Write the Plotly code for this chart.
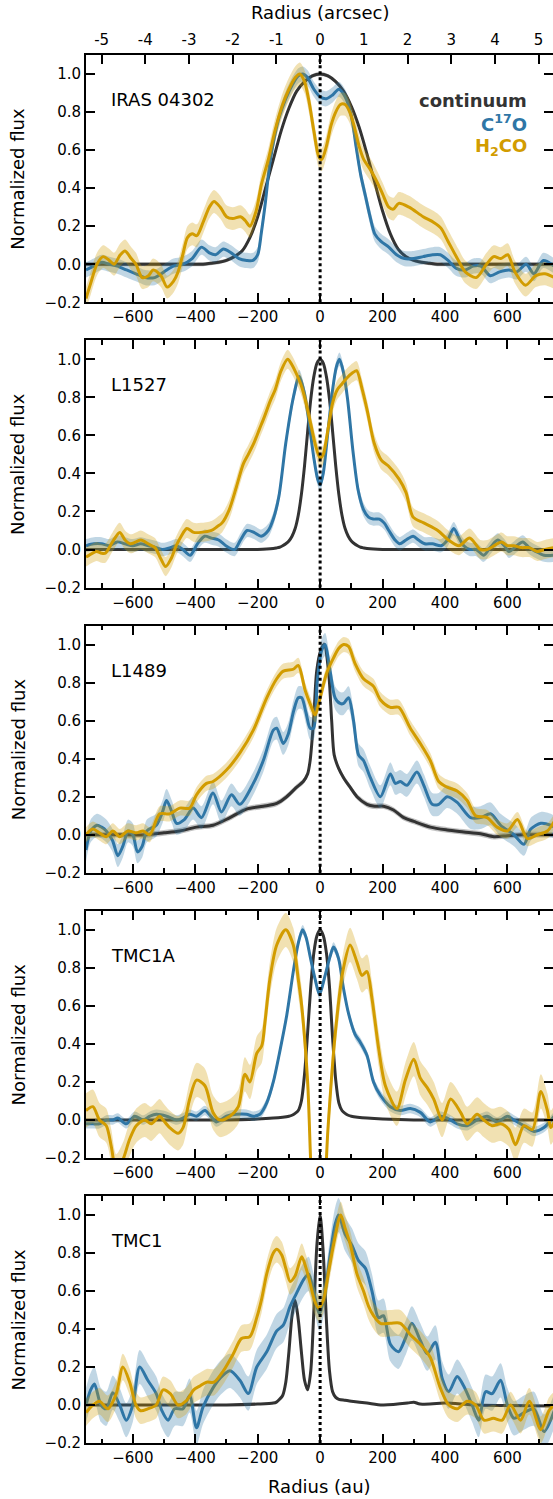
import plotly.graph_objects as go

# ---------------- data ----------------
SOURCES = ["IRAS 04302", "L1527", "L1489", "TMC1A", "TMC1"]
AU_PER_ARCSEC = 140.0
X_RANGE = [-750, 746]
Y_RANGE = [-0.2, 1.1]
ARCSEC_TICKS = [-5, -4, -3, -2, -1, 0, 1, 2, 3, 4, 5]
ARCSEC_LABELS = ["-5", "-4", "-3", "-2", "-1", "0", "1", "2", "3", "4", "5"]

# (radius [au], normalized flux)
IRAS04302_CONT = [(-750, 0.0), (-600, 0.0), (-450, 0.0), (-375, 0.0), (-350, 0.005), (-325, 0.01), (-300, 0.02),
                  (-275, 0.04), (-250, 0.07), (-225, 0.14), (-200, 0.25), (-175, 0.40), (-150, 0.55), (-125, 0.70),
                  (-100, 0.82), (-75, 0.91), (-50, 0.96), (-25, 0.99), (0, 1.0), (25, 0.99), (50, 0.96), (75, 0.91),
                  (100, 0.83), (125, 0.72), (150, 0.58), (175, 0.43), (200, 0.28), (225, 0.16), (250, 0.08),
                  (275, 0.04), (300, 0.02), (325, 0.01), (350, 0.005), (375, 0.0), (450, 0.0), (600, 0.0), (750, 0.0)]
IRAS04302_C17O = [(-750, -0.03), (-725, -0.01), (-700, 0.01), (-675, 0.0), (-650, -0.01), (-620, -0.03), (-590, -0.05),
                  (-560, -0.07), (-530, -0.07), (-500, -0.04), (-470, -0.01), (-440, 0.0), (-410, 0.03), (-380, 0.09),
                  (-355, 0.06), (-335, 0.05), (-310, 0.08), (-285, 0.06), (-260, 0.03), (-235, 0.02), (-215, 0.02),
                  (-200, 0.05), (-188, 0.17), (-175, 0.33), (-162, 0.52), (-145, 0.68), (-130, 0.78), (-110, 0.87),
                  (-90, 0.94), (-70, 0.99), (-55, 1.0), (-40, 0.98), (-20, 0.92), (0, 0.88), (20, 0.87), (40, 0.89),
                  (60, 0.92), (80, 0.88), (100, 0.78), (115, 0.62), (130, 0.47), (145, 0.36), (160, 0.25), (175, 0.16),
                  (195, 0.12), (220, 0.09), (245, 0.05), (270, 0.03), (300, 0.03), (330, 0.04), (360, 0.05),
                  (385, 0.05), (410, 0.02), (435, -0.02), (465, -0.03), (490, -0.01), (515, -0.01), (545, -0.06),
                  (575, -0.04), (605, -0.03), (630, -0.04), (660, 0.0), (685, -0.05), (715, 0.02), (750, -0.01)]
IRAS04302_H2CO = [(-750, -0.18), (-735, -0.1), (-715, 0.0), (-695, 0.04), (-675, 0.02), (-660, 0.0), (-640, 0.05),
                  (-625, 0.07), (-605, 0.03), (-590, 0.0), (-570, -0.07), (-550, -0.06), (-535, -0.03), (-510, -0.06),
                  (-490, -0.12), (-470, -0.09), (-455, -0.04), (-440, 0.05), (-425, 0.14), (-410, 0.16), (-395, 0.15),
                  (-375, 0.22), (-355, 0.3), (-340, 0.33), (-320, 0.3), (-300, 0.25), (-280, 0.24), (-255, 0.25),
                  (-240, 0.23), (-225, 0.2), (-205, 0.28), (-188, 0.42), (-166, 0.55), (-145, 0.7), (-120, 0.84),
                  (-100, 0.92), (-80, 0.98), (-65, 1.0), (-50, 0.96), (-35, 0.85), (-20, 0.7), (-5, 0.57), (5, 0.55),
                  (20, 0.62), (35, 0.73), (50, 0.8), (65, 0.84), (80, 0.84), (95, 0.8), (110, 0.72), (125, 0.62),
                  (140, 0.55), (160, 0.5), (180, 0.44), (200, 0.37), (220, 0.3), (235, 0.29), (252, 0.32), (285, 0.3),
                  (330, 0.25), (364, 0.22), (387, 0.19), (410, 0.12), (443, 0.02), (465, -0.04), (500, -0.07),
                  (533, 0.0), (556, 0.04), (579, 0.03), (601, 0.05), (624, -0.04), (658, -0.11), (691, -0.06),
                  (720, -0.05), (750, -0.07)]

L1527_CONT = [(-750, 0.0), (-500, 0.0), (-300, 0.0), (-200, 0.0), (-150, 0.005), (-140, 0.008), (-130, 0.012),
              (-120, 0.02), (-110, 0.03), (-100, 0.045), (-90, 0.07), (-80, 0.11), (-70, 0.18), (-60, 0.29),
              (-50, 0.44), (-40, 0.62), (-30, 0.79), (-20, 0.91), (-10, 0.98), (0, 1.0), (10, 0.98), (20, 0.91),
              (30, 0.79), (40, 0.62), (50, 0.44), (60, 0.29), (70, 0.18), (80, 0.11), (90, 0.07), (100, 0.045),
              (110, 0.03), (120, 0.02), (130, 0.012), (140, 0.008), (150, 0.005), (200, 0.0), (300, 0.0),
              (500, 0.0), (750, 0.0)]
L1527_C17O = [(-750, 0.02), (-725, 0.03), (-700, 0.03), (-675, 0.02), (-650, 0.04), (-625, 0.03), (-600, 0.02),
              (-575, 0.03), (-550, 0.02), (-525, 0.01), (-505, 0.0), (-480, 0.01), (-460, 0.02), (-440, 0.0),
              (-416, -0.03), (-393, 0.03), (-370, 0.07), (-348, 0.06), (-325, 0.05), (-302, 0.02), (-274, 0.0),
              (-255, 0.05), (-234, 0.1), (-212, 0.09), (-189, 0.07), (-166, 0.1), (-150, 0.16), (-132, 0.28),
              (-110, 0.56), (-87, 0.79), (-67, 0.91), (-50, 0.82), (-35, 0.66), (-20, 0.48), (-8, 0.37), (0, 0.34),
              (10, 0.4), (25, 0.62), (40, 0.84), (52, 0.96), (62, 1.0), (75, 0.93), (88, 0.79), (105, 0.52),
              (122, 0.31), (139, 0.21), (155, 0.17), (170, 0.16), (190, 0.16), (205, 0.14), (220, 0.1), (240, 0.05),
              (255, 0.03), (275, 0.05), (298, 0.07), (315, 0.05), (335, 0.03), (360, 0.03), (388, 0.02),
              (408, 0.05), (428, 0.11), (445, 0.06), (460, 0.02), (480, 0.0), (500, 0.0), (524, -0.03),
              (545, 0.01), (569, 0.05), (590, 0.02), (605, -0.01), (630, 0.02), (649, 0.04), (670, 0.01),
              (690, -0.01), (717, -0.03), (750, -0.03)]
L1527_H2CO = [(-750, -0.04), (-730, -0.02), (-716, -0.01), (-700, -0.02), (-688, -0.02), (-665, 0.04), (-642, 0.09),
              (-625, 0.05), (-608, 0.03), (-590, 0.04), (-574, 0.05), (-551, 0.03), (-529, 0.01), (-510, -0.05),
              (-495, -0.09), (-478, -0.05), (-461, 0.02), (-445, 0.07), (-427, 0.11), (-405, 0.09), (-382, 0.09),
              (-348, 0.1), (-330, 0.12), (-314, 0.14), (-291, 0.21), (-268, 0.33), (-246, 0.45), (-230, 0.5),
              (-212, 0.56), (-195, 0.63), (-178, 0.7), (-160, 0.78), (-144, 0.84), (-125, 0.94), (-104, 1.0),
              (-90, 0.97), (-75, 0.92), (-60, 0.86), (-45, 0.77), (-30, 0.66), (-15, 0.55), (0, 0.48), (10, 0.5),
              (25, 0.63), (40, 0.77), (55, 0.84), (70, 0.87), (85, 0.9), (105, 0.93), (117, 0.94), (135, 0.84),
              (151, 0.73), (173, 0.56), (196, 0.47), (218, 0.44), (253, 0.37), (275, 0.3), (298, 0.17),
              (332, 0.14), (377, 0.1), (411, 0.05), (445, 0.02), (479, 0.06), (513, 0.0), (535, 0.0), (558, 0.02),
              (581, 0.04), (600, 0.02), (620, 0.02), (645, 0.01), (670, 0.01), (695, -0.01), (720, 0.0), (750, 0.01)]

L1489_CONT = [(-750, 0.0), (-650, 0.0), (-557, 0.0), (-500, 0.01), (-450, 0.02), (-396, 0.04), (-343, 0.05),
              (-289, 0.09), (-236, 0.135), (-182, 0.15), (-139, 0.165), (-107, 0.2), (-75, 0.25), (-54, 0.28),
              (-40, 0.32), (-32, 0.39), (-21, 0.6), (-11, 0.86), (2, 0.97), (13, 1.0), (27, 0.86), (37, 0.6),
              (45, 0.42), (59, 0.35), (75, 0.3), (96, 0.25), (118, 0.2), (150, 0.16), (175, 0.15), (203, 0.15),
              (235, 0.13), (268, 0.09), (300, 0.07), (353, 0.04), (407, 0.025), (460, 0.015), (514, 0.005),
              (557, -0.01), (600, -0.005), (650, 0.0), (750, 0.0)]
L1489_C17O = [(-750, -0.08), (-735, 0.02), (-715, 0.05), (-700, 0.04), (-685, 0.02), (-665, -0.03), (-648, -0.11),
              (-632, -0.06), (-615, 0.02), (-600, 0.0), (-585, -0.09), (-570, -0.06), (-555, 0.02), (-525, 0.05),
              (-505, 0.12), (-492, 0.18), (-475, 0.12), (-460, 0.06), (-435, 0.08), (-407, 0.14), (-380, 0.09),
              (-343, 0.22), (-316, 0.12), (-284, 0.21), (-257, 0.16), (-214, 0.27), (-182, 0.39), (-150, 0.55),
              (-139, 0.56), (-118, 0.48), (-102, 0.53), (-85, 0.65), (-70, 0.72), (-59, 0.72), (-45, 0.64),
              (-32, 0.56), (-21, 0.56), (-9, 0.81), (5, 0.97), (16, 1.0), (32, 0.86), (48, 0.72), (64, 0.69),
              (75, 0.69), (91, 0.72), (107, 0.6), (123, 0.42), (139, 0.39), (161, 0.3), (193, 0.2), (225, 0.32),
              (241, 0.27), (257, 0.28), (278, 0.26), (310, 0.33), (332, 0.26), (359, 0.16), (380, 0.16),
              (407, 0.2), (439, 0.17), (482, 0.09), (514, 0.09), (546, 0.11), (578, 0.05), (621, 0.0),
              (653, -0.05), (675, 0.03), (707, 0.06), (739, 0.05), (750, 0.04)]
L1489_H2CO = [(-750, 0.0), (-728, 0.03), (-707, 0.01), (-685, -0.01), (-664, 0.02), (-642, -0.01), (-616, 0.02),
              (-589, 0.01), (-567, 0.02), (-546, 0.0), (-514, 0.11), (-482, 0.11), (-450, 0.14), (-418, 0.14),
              (-396, 0.21), (-364, 0.27), (-343, 0.28), (-300, 0.34), (-257, 0.43), (-214, 0.55), (-171, 0.72),
              (-139, 0.82), (-118, 0.86), (-86, 0.87), (-70, 0.89), (-48, 0.76), (-30, 0.68), (-16, 0.63),
              (0, 0.72), (21, 0.85), (43, 0.93), (60, 0.98), (75, 1.0), (91, 0.99), (112, 0.9), (139, 0.82),
              (171, 0.78), (193, 0.71), (225, 0.67), (252, 0.67), (289, 0.56), (321, 0.48), (353, 0.39),
              (380, 0.28), (407, 0.25), (439, 0.23), (471, 0.18), (498, 0.1), (535, 0.09), (567, 0.04), (600, 0.02),
              (632, 0.08), (664, -0.02), (696, 0.0), (728, 0.02), (750, 0.07)]

TMC1A_CONT = [(-750, 0.0), (-500, 0.0), (-300, 0.0), (-200, 0.005), (-150, 0.01), (-120, 0.015), (-100, 0.02),
              (-90, 0.025), (-80, 0.035), (-70, 0.05), (-60, 0.1), (-50, 0.24), (-40, 0.46), (-30, 0.7), (-20, 0.88),
              (-10, 0.97), (0, 1.0), (10, 0.97), (20, 0.88), (30, 0.7), (40, 0.43), (50, 0.21), (60, 0.09),
              (70, 0.05), (80, 0.035), (90, 0.025), (100, 0.02), (120, 0.015), (150, 0.01), (200, 0.005),
              (300, 0.0), (500, 0.0), (750, 0.0)]
TMC1A_C17O = [(-750, -0.02), (-728, -0.02), (-707, -0.02), (-685, 0.0), (-664, 0.0), (-648, 0.01), (-621, -0.02),
              (-594, 0.02), (-567, 0.0), (-545, 0.02), (-525, 0.03), (-492, 0.02), (-460, 0.0), (-440, 0.01),
              (-418, 0.03), (-396, 0.02), (-369, 0.05), (-350, 0.02), (-332, -0.01), (-300, 0.02), (-268, 0.03),
              (-236, 0.03), (-214, 0.02), (-193, 0.03), (-171, 0.09), (-150, 0.2), (-128, 0.37), (-107, 0.55),
              (-86, 0.78), (-70, 0.93), (-56, 1.0), (-45, 0.96), (-32, 0.86), (-16, 0.74), (-2, 0.66), (16, 0.76),
              (32, 0.86), (43, 0.91), (59, 0.85), (75, 0.69), (91, 0.56), (112, 0.45), (128, 0.41), (150, 0.34),
              (171, 0.2), (193, 0.13), (225, 0.07), (257, 0.05), (289, 0.06), (321, 0.04), (353, -0.01),
              (385, 0.02), (407, 0.01), (439, -0.02), (471, -0.03), (503, 0.0), (535, 0.02), (567, -0.01),
              (600, 0.02), (621, 0.0), (653, -0.03), (685, -0.06), (717, -0.04), (750, 0.02)]
TMC1A_H2CO = [(-750, 0.05), (-728, 0.07), (-707, 0.0), (-685, -0.03), (-669, -0.14), (-653, -0.27), (-632, -0.21),
              (-610, -0.1), (-589, -0.03), (-562, 0.0), (-541, -0.02), (-514, 0.02), (-503, 0.0), (-482, -0.04),
              (-455, -0.07), (-439, -0.04), (-418, 0.11), (-396, 0.21), (-369, 0.18), (-343, 0.04), (-321, 0.0),
              (-289, 0.02), (-262, 0.07), (-241, 0.24), (-225, 0.2), (-203, 0.35), (-187, 0.39), (-177, 0.51),
              (-161, 0.74), (-139, 0.92), (-110, 1.0), (-86, 0.92), (-70, 0.74), (-59, 0.6), (-40, 0.2),
              (-25, -0.4), (0, -0.8), (25, -0.05), (50, 0.48), (75, 0.8), (96, 0.92), (118, 0.83), (134, 0.76),
              (150, 0.78), (166, 0.64), (188, 0.37), (209, 0.18), (246, 0.06), (273, 0.21), (300, 0.32),
              (321, 0.22), (343, 0.17), (364, 0.11), (391, 0.0), (418, 0.11), (450, 0.04), (471, -0.02),
              (503, 0.03), (524, 0.0), (551, -0.03), (578, -0.02), (605, -0.05), (626, -0.13), (653, -0.03),
              (680, -0.05), (707, 0.15), (728, 0.05), (739, -0.04), (750, -0.01)]

TMC1_CONT = [(-750, 0.0), (-500, 0.0), (-300, 0.0), (-200, 0.005), (-150, 0.01), (-140, 0.015), (-130, 0.03),
             (-120, 0.05), (-110, 0.12), (-100, 0.28), (-90, 0.47), (-80, 0.55), (-70, 0.45), (-60, 0.28),
             (-50, 0.13), (-40, 0.08), (-30, 0.18), (-20, 0.5), (-10, 0.85), (0, 1.0), (10, 0.8), (20, 0.45),
             (30, 0.18), (40, 0.07), (50, 0.04), (60, 0.03), (80, 0.025), (100, 0.02), (150, 0.01), (200, 0.0),
             (280, 0.01), (300, 0.015), (320, 0.005), (400, 0.01), (500, 0.0), (750, -0.005)]
TMC1_C17O = [(-750, 0.0), (-735, 0.08), (-723, 0.11), (-702, 0.0), (-685, -0.02), (-664, 0.065), (-642, 0.0),
             (-621, -0.08), (-600, 0.0), (-578, 0.2), (-552, 0.13), (-525, 0.06), (-507, -0.03), (-487, -0.08),
             (-466, -0.02), (-439, -0.02), (-418, 0.05), (-396, -0.12), (-375, -0.01), (-343, 0.09), (-321, 0.14),
             (-289, 0.18), (-257, 0.13), (-230, 0.06), (-203, 0.2), (-171, 0.28), (-139, 0.39), (-118, 0.42),
             (-96, 0.52), (-75, 0.59), (-53, 0.66), (-37, 0.69), (-21, 0.6), (-2, 0.48), (16, 0.6), (32, 0.79),
             (48, 0.95), (59, 1.0), (80, 0.9), (102, 0.84), (123, 0.76), (145, 0.72), (166, 0.6), (187, 0.46),
             (203, 0.47), (225, 0.32), (251, 0.28), (273, 0.35), (294, 0.43), (321, 0.34), (343, 0.27),
             (369, 0.33), (391, 0.14), (412, 0.07), (439, 0.15), (460, 0.1), (487, 0.0), (508, -0.08),
             (530, 0.07), (551, 0.06), (578, 0.13), (600, 0.0), (621, -0.07), (653, -0.04), (685, -0.02),
             (717, -0.14), (750, -0.03)]
TMC1_H2CO = [(-750, -0.04), (-728, 0.0), (-707, 0.02), (-680, -0.02), (-653, 0.06), (-632, 0.2), (-610, 0.12),
             (-590, 0.0), (-575, -0.03), (-552, -0.02), (-525, 0.0), (-503, 0.08), (-480, 0.06), (-455, 0.0),
             (-430, 0.02), (-405, 0.08), (-385, 0.1), (-364, 0.12), (-340, 0.12), (-310, 0.18), (-278, 0.27),
             (-252, 0.35), (-225, 0.36), (-203, 0.46), (-187, 0.56), (-171, 0.69), (-150, 0.8), (-139, 0.82),
             (-123, 0.79), (-110, 0.72), (-96, 0.65), (-80, 0.68), (-59, 0.78), (-45, 0.72), (-32, 0.64),
             (-18, 0.55), (-5, 0.51), (10, 0.55), (27, 0.7), (45, 0.86), (66, 1.0), (80, 0.93), (96, 0.85),
             (118, 0.69), (139, 0.6), (155, 0.52), (171, 0.47), (193, 0.43), (225, 0.43), (257, 0.43),
             (289, 0.37), (321, 0.32), (353, 0.25), (385, 0.09), (412, 0.0), (439, -0.02), (471, 0.02),
             (498, 0.0), (525, -0.08), (555, -0.07), (583, -0.08), (610, 0.0), (642, -0.08), (670, 0.02),
             (707, -0.13), (733, -0.03), (750, 0.0)]

CONTINUUM = [IRAS04302_CONT, L1527_CONT, L1489_CONT, TMC1A_CONT, TMC1_CONT]
C17O = [IRAS04302_C17O, L1527_C17O, L1489_C17O, TMC1A_C17O, TMC1_C17O]
H2CO = [IRAS04302_H2CO, L1527_H2CO, L1489_H2CO, TMC1A_H2CO, TMC1_H2CO]

# 1-sigma uncertainty (half width of shaded band)
ERR_CONT = [0.01, 0.005, 0.015, 0.005, 0.005]
ERR_C17O = [0.04, 0.035, 0.06, 0.025, 0.09]
ERR_H2CO = [0.06, 0.05, 0.04, 0.09, 0.07]

# ---------------- style ----------------
FONT = "DejaVu Sans"
C_CONT, C_C17O, C_H2CO = "#333333", "#2f76a6", "#d29c00"
F_CONT, F_C17O, F_H2CO = "rgba(51,51,51,0.3)", "rgba(47,118,166,0.3)", "rgba(210,156,0,0.3)"

W, H = 553, 1499
M_L, M_R, M_T, M_B = 86, 0, 55, 56
PLOT_H = H - M_T - M_B
PANEL_H = 247.3
PANEL_STEP = 285.25

fig = go.Figure()


def add_series(pairs, err, color, fill, xa, ya):
    xs = [p[0] for p in pairs]
    ys = [p[1] for p in pairs]
    ln = dict(width=0, shape="spline", smoothing=0.8)
    fig.add_trace(go.Scatter(x=xs, y=[v + err for v in ys], mode="lines", line=ln, hoverinfo="skip",
                             showlegend=False, xaxis=xa, yaxis=ya))
    fig.add_trace(go.Scatter(x=xs, y=[v - err for v in ys], mode="lines", line=ln, fill="tonexty",
                             fillcolor=fill, hoverinfo="skip", showlegend=False, xaxis=xa, yaxis=ya))
    fig.add_trace(go.Scatter(x=xs, y=ys, mode="lines",
                             line=dict(color=color, width=3, shape="spline", smoothing=0.8),
                             showlegend=False, xaxis=xa, yaxis=ya))


tickfont = dict(family=FONT, size=15, color="black")
layout = dict(template="none", width=W, height=H, margin=dict(l=M_L, r=M_R, t=M_T, b=M_B, autoexpand=False),
              plot_bgcolor="white", paper_bgcolor="white", showlegend=False,
              font=dict(family=FONT, color="black"))
annotations = []
shapes = []

for i, name in enumerate(SOURCES):
    k = i + 1
    xa = "x" if k == 1 else f"x{k}"
    ya = "y" if k == 1 else f"y{k}"
    top_rel = i * PANEL_STEP
    bot_rel = top_rel + PANEL_H
    dom = [max(0.0, 1 - bot_rel / PLOT_H), 1 - top_rel / PLOT_H]

    add_series(CONTINUUM[i], ERR_CONT[i], C_CONT, F_CONT, xa, ya)
    add_series(C17O[i], ERR_C17O[i], C_C17O, F_C17O, xa, ya)
    add_series(H2CO[i], ERR_H2CO[i], C_H2CO, F_H2CO, xa, ya)

    layout[f"xaxis{k}"] = dict(
        domain=[0, 1], range=X_RANGE, anchor=ya, showline=True, linewidth=2, linecolor="black",
        mirror=True if k == 1 else "ticks", ticks="inside", ticklen=9, tickwidth=2, tickcolor="black",
        tick0=0, dtick=200, minor=dict(tick0=0, dtick=100, ticks="inside", ticklen=4.5, tickwidth=2,
                                       tickcolor="black", showgrid=False),
        showgrid=False, zeroline=False, tickfont=tickfont, fixedrange=True, automargin=False)
    layout[f"yaxis{k}"] = dict(
        domain=dom, range=Y_RANGE, anchor=xa, showline=True, linewidth=2, linecolor="black",
        ticks="inside", ticklen=9, tickwidth=2, tickcolor="black", tick0=0, dtick=0.2, tickformat=".1f",
        showgrid=False, zeroline=False, tickfont=tickfont, fixedrange=True, automargin=False)
    # right-side tick marks (spine itself lies just outside the canvas)
    layout[f"yaxis{5 + k}"] = dict(
        overlaying=ya, side="right", anchor=xa, range=Y_RANGE, showline=False, ticks="inside",
        ticklen=9, tickwidth=2, tickcolor="black", tick0=0, dtick=0.2, showticklabels=False,
        showgrid=False, zeroline=False, fixedrange=True, automargin=False)
    fig.add_trace(go.Scatter(x=[None], y=[None], xaxis=xa, yaxis=f"y{5 + k}", showlegend=False,
                             hoverinfo="skip"))

    shapes.append(dict(type="line", xref=xa, yref=f"{ya} domain", x0=0, x1=0, y0=0, y1=1,
                       line=dict(color="black", width=3, dash="dot"), layer="above"))
    annotations.append(dict(text=name, xref=f"{xa} domain", yref=f"{ya} domain", x=0.049, y=0.82,
                            xanchor="left", yanchor="middle", showarrow=False,
                            font=dict(family=FONT, size=18, color="black")))
    annotations.append(dict(text="Normalized flux", xref="paper", yref=f"{ya} domain",
                            x=(18 - M_L) / (W - M_L - M_R), y=0.5, textangle=-90, xanchor="center",
                            yanchor="middle", showarrow=False, font=dict(family=FONT, size=18, color="black")))

# top arcsec axis on first panel
layout["xaxis6"] = dict(overlaying="x", side="top", anchor="y",
                        range=[r / AU_PER_ARCSEC for r in X_RANGE], tickvals=ARCSEC_TICKS,
                        ticktext=ARCSEC_LABELS, ticks="inside", ticklen=9, tickwidth=2, tickcolor="black",
                        ticklabelstandoff=6,
                        showline=False, showgrid=False, zeroline=False, tickfont=tickfont, fixedrange=True,
                        automargin=False)
fig.add_trace(go.Scatter(x=[None], y=[None], xaxis="x6", yaxis="y", showlegend=False, hoverinfo="skip"))

# legend text
for txt, col, yy in [("<b>continuum</b>", C_CONT, 0.818), ("<b>C<sup>17</sup>O</b>", C_C17O, 0.724),
                     ("<b>H<sub>2</sub>CO</b>", C_H2CO, 0.628)]:
    annotations.append(dict(text=txt, xref="x domain", yref="y domain", x=0.948, y=yy, xanchor="right",
                            yanchor="middle", showarrow=False, font=dict(family=FONT, size=18, color=col)))

annotations.append(dict(text="Radius (arcsec)", xref="paper", yref="paper", x=0.5, y=1 + (M_T - 12) / PLOT_H,
                        xanchor="center", yanchor="middle", showarrow=False,
                        font=dict(family=FONT, size=18, color="black")))
annotations.append(dict(text="Radius (au)", xref="paper", yref="paper", x=0.5, y=-(1487 - (H - M_B)) / PLOT_H,
                        xanchor="center", yanchor="middle", showarrow=False,
                        font=dict(family=FONT, size=18, color="black")))

layout["annotations"] = annotations
layout["shapes"] = shapes
fig.update_layout(**layout)
# remove the browser's default 8px body margin so the figure sits at the page origin
fig.write_html("out.html", config={"displayModeBar": False},
               post_script="document.body.style.margin='0';document.body.style.overflow='hidden';")
